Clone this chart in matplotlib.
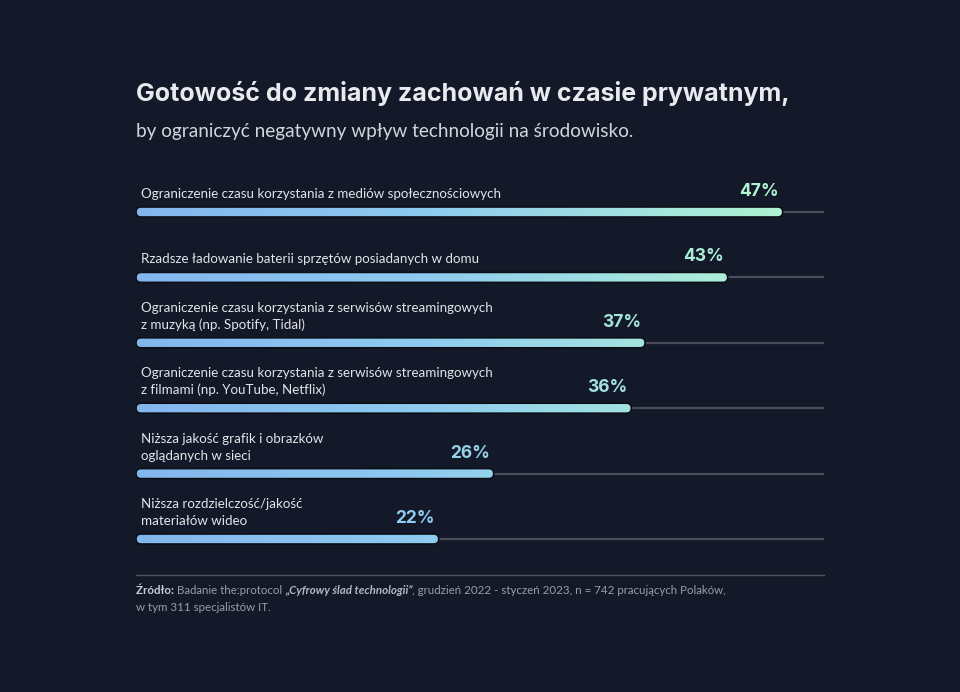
import matplotlib
matplotlib.use("Agg")
import matplotlib.pyplot as plt
import numpy as np
from matplotlib.colors import LinearSegmentedColormap
from matplotlib.patches import FancyBboxPatch

# data
labels = [
    "Ograniczenie czasu korzystania z mediów społecznościowych",
    "Rzadsze ładowanie baterii sprzętów posiadanych w domu",
    "Ograniczenie czasu korzystania z serwisów streamingowych\nz muzyką (np. Spotify, Tidal)",
    "Ograniczenie czasu korzystania z serwisów streamingowych\nz filmami (np. YouTube, Netflix)",
    "Niższa jakość grafik i obrazków\noglądanych w sieci",
    "Niższa rozdzielczość/jakość\nmateriałów wideo",
]
values = [47, 43, 37, 36, 26, 22]
track_max = 50

title = "Gotowość do zmiany zachowań w czasie prywatnym,"
subtitle = "by ograniczyć negatywny wpływ technologii na środowisko."
source_parts = [
    ("Źródło: ", "bold", "normal", "#c9ccd3"),
    ("Badanie the:protocol ", "normal", "normal", "#9a9ea8"),
    ("„Cyfrowy ślad technologii”", "bold", "italic", "#b4b8c0"),
    (", grudzień 2022 - styczeń 2023, n = 742 pracujących Polaków,", "normal", "normal", "#9a9ea8"),
]
source_line2 = "w tym 311 specjalistów IT."

BG = "#131928"
FONT = ["Lato", "DejaVu Sans"]
WIDE = ["Inter", "DejaVu Sans"]
plt.rcParams["font.family"] = FONT

W, H = 960, 692
fig = plt.figure(figsize=(W / 100, H / 100), dpi=100)
fig.patch.set_facecolor(BG)

fig.text(136 / W, 1 - 101 / H, title, color="#e9eaee", fontsize=18, fontweight="bold",
         va="baseline", family=WIDE)
fig.text(136 / W, 1 - 137 / H, subtitle, color="#d2d5db", fontsize=13.7, va="baseline")

# axes: pixels 136..824 horizontally, 170..550 vertically
ax_l, ax_r, ax_t, ax_b = 136, 824, 170, 550
ax = fig.add_axes([ax_l / W, 1 - ax_b / H, (ax_r - ax_l) / W, (ax_b - ax_t) / H])
ax.set_facecolor(BG)
ax.axis("off")
row_px = 65.4
y_bottom = 5 + (ax_b - 539) / row_px
y_top = -(212 - ax_t) / row_px
ax.set_xlim(0, track_max)
ax.set_ylim(y_bottom, y_top)

px_x = (ax_r - ax_l) / track_max
px_y = row_px
bar_h = 10 / px_y
radius = 5 / px_x
aspect = px_x / px_y

cmap = LinearSegmentedColormap.from_list(
    "bar", [(0.0, "#84b6ee"), (0.45, "#8ecbf0"), (0.75, "#a2e1e1"), (1.0, "#b0f3d1")]
)
grad = np.linspace(0, 1, 256).reshape(1, -1)

for i, (lab, v) in enumerate(zip(labels, values)):
    ax.plot([0, track_max], [i, i], color="#484d5a", lw=1.6, solid_capstyle="butt", zorder=1)
    patch = FancyBboxPatch(
        (0, i - bar_h / 2), v, bar_h,
        boxstyle=f"round,pad=0,rounding_size={radius}",
        mutation_aspect=aspect, facecolor="none", edgecolor="#0b0f18", lw=1.2, zorder=3,
    )
    ax.add_patch(patch)
    im = ax.imshow(grad, extent=(0, max(values), i + bar_h, i - bar_h), aspect="auto",
                   cmap=cmap, zorder=2, interpolation="bicubic")
    im.set_clip_path(patch)
    ax.annotate(lab, (0, i), xytext=(5, 12), textcoords="offset pixels",
                ha="left", va="bottom", color="#e2e4e8", fontsize=9.6, linespacing=1.45)
    ax.annotate(f"{v}%", (v, i), xytext=(-4, 16), textcoords="offset pixels",
                ha="right", va="baseline", color=cmap(v / max(values)),
                fontsize=12.5, fontweight="bold", family=WIDE)

ax.set_xlim(0, track_max)
ax.set_ylim(y_bottom, y_top)

# separator and source
fig.add_artist(plt.Line2D([136 / W, 824 / W], [1 - 575 / H, 1 - 575 / H], color="#4e5360", lw=1))
fig.canvas.draw()
renderer = fig.canvas.get_renderer()
x = 136
for txt, weight, style, col in source_parts:
    t = fig.text(x / W, 1 - 594 / H, txt, color=col, fontsize=8.3, fontweight=weight,
                 fontstyle=style, va="baseline")
    bb = t.get_window_extent(renderer)
    x += bb.width
fig.text(136 / W, 1 - 611 / H, source_line2, color="#9a9ea8", fontsize=8.3, va="baseline")

fig.savefig("out.png", dpi=100, facecolor=BG)
